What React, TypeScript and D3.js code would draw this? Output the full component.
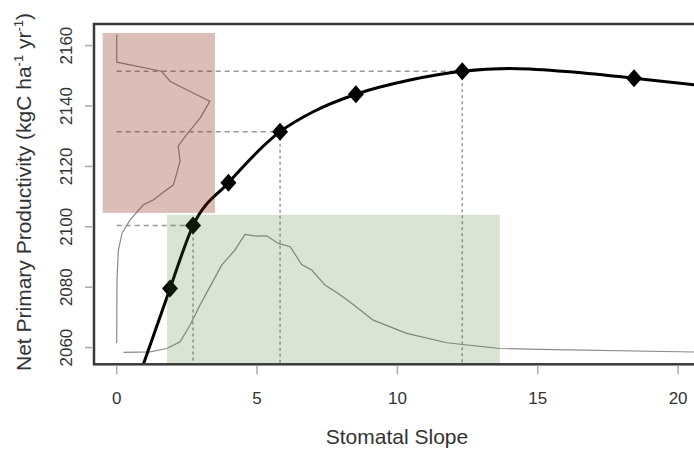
import React from "react";
import * as d3 from "d3";

// Fitted response curve (stomatal slope -> NPP)
const curveX = [0.8, 1.9, 2.72, 3.98, 5.82, 7.0, 8.52, 10.45, 12.31, 14.0, 16.0, 18.43, 20.8];
const curveY = [2050.5, 2079.6, 2100.4, 2114.6, 2131.5, 2138.1, 2143.9, 2148.6, 2151.5, 2152.4, 2151.4, 2149.2, 2146.8];

// Diamond markers
const markerX = [1.9, 2.72, 3.98, 5.82, 8.52, 12.31, 18.43];
const markerY = [2079.6, 2100.4, 2114.6, 2131.5, 2143.9, 2151.5, 2149.2];

// Markers with guide lines (indices into marker arrays)
const guideIdx = [1, 3, 5];

// NPP density (drawn sideways: x = density, y = NPP)
const nppDensX = [0, 0, 1.6, 1.9, 2.49, 3.32, 2.97, 2.49, 2.19, 2.26, 2.02, 1.54, 1.3, 0.95, 0.47, 0.19, 0.06, 0.01, 0];
const nppDensY = [2163.6, 2154.5, 2151.5, 2148.2, 2145.4, 2141.6, 2136.0, 2130.5, 2126.7, 2121.7, 2113.9, 2110.6, 2108.9, 2107.3, 2102.2, 2097.9, 2092.3, 2082.3, 2061.5];

// Stomatal slope density (x = slope, y = NPP-scaled density)
const slopeDensX = [0.24, 1.19, 1.78, 2.26, 2.61, 2.97, 3.32, 3.74, 4.21, 4.57, 4.99, 5.34, 5.76, 6.18, 6.59, 6.95, 7.42, 7.89, 8.31, 9.14, 10.33, 11.76, 13.65, 15.08, 20.8];
const slopeDensY = [2058.4, 2058.6, 2059.7, 2061.9, 2067.4, 2074.1, 2080.1, 2087.3, 2092.3, 2097.5, 2096.9, 2097.0, 2094.5, 2093.4, 2087.5, 2085.7, 2080.7, 2077.9, 2075.1, 2069.1, 2064.7, 2061.6, 2059.7, 2059.4, 2058.5];

// Shaded ranges
const nppBoxX = [-0.5, 3.5];
const nppBoxY = [2104.6, 2164.2];
const slopeBoxX = [1.79, 13.65];
const slopeBoxY = [2040, 2104.0];

const xTicks = [0, 5, 10, 15, 20];
const yTicks = [2060, 2080, 2100, 2120, 2140, 2160];

const W = 694;
const H = 450;
const left = 94;
const right = 700;
const top = 24;
const bottom = 364.3;

export default function App() {
  const x = d3.scaleLinear().domain([0, 20]).range([116.7, 678.1]);
  const y = d3.scaleLinear().domain([2060, 2160]).range([347.6, 45.6]);

  const line = d3
    .line<[number, number]>()
    .x((d) => x(d[0]))
    .y((d) => y(d[1]))
    .curve(d3.curveMonotoneX);
  const lineRaw = d3
    .line<[number, number]>()
    .x((d) => x(d[0]))
    .y((d) => y(d[1]));

  const curvePts = curveX.map((v, i) => [v, curveY[i]] as [number, number]);
  const nppPts = nppDensX.map((v, i) => [v, nppDensY[i]] as [number, number]);
  const slopePts = slopeDensX.map((v, i) => [v, slopeDensY[i]] as [number, number]);

  const font = "'Liberation Sans', Arial, Helvetica, sans-serif";
  const txt = "#333";

  const diamond = (cx: number, cy: number) =>
    `M${cx},${cy - 9}L${cx + 8},${cy}L${cx},${cy + 9}L${cx - 8},${cy}Z`;

  return (
    <svg
      width={W}
      height={H}
      style={{ position: "absolute", left: 0, top: 0, background: "#fff" }}
      fontFamily={font}
    >
      <defs>
        <clipPath id="plot">
          <rect x={left} y={top} width={right - left} height={bottom - top} />
        </clipPath>
      </defs>
      <rect width={W} height={H} fill="#fff" />
      <g clipPath="url(#plot)">
        {/* density lines */}
        <path d={lineRaw(nppPts) || ""} fill="none" stroke="#8a8a8a" strokeWidth={1.2} />
        <path d={lineRaw(slopePts) || ""} fill="none" stroke="#8a8a8a" strokeWidth={1.2} />
        {/* guide lines */}
        {guideIdx.map((i) => (
          <g key={i}>
            <line
              x1={x(0)}
              x2={x(markerX[i])}
              y1={y(markerY[i])}
              y2={y(markerY[i])}
              stroke="#999"
              strokeWidth={1.5}
              strokeDasharray="5,4"
            />
            <line
              x1={x(markerX[i])}
              x2={x(markerX[i])}
              y1={y(markerY[i])}
              y2={bottom}
              stroke="#999"
              strokeWidth={1.5}
              strokeDasharray="3,3"
            />
          </g>
        ))}
        {/* main curve */}
        <path d={line(curvePts) || ""} fill="none" stroke="#000" strokeWidth={3} />
        {markerX.map((v, i) => (
          <path key={i} d={diamond(x(v), y(markerY[i]))} fill="#000" />
        ))}
        {/* shaded ranges */}
        <rect
          x={x(nppBoxX[0])}
          y={y(nppBoxY[1])}
          width={x(nppBoxX[1]) - x(nppBoxX[0])}
          height={y(nppBoxY[0]) - y(nppBoxY[1])}
          fill="rgba(140,40,20,0.3)"
        />
        <rect
          x={x(slopeBoxX[0])}
          y={y(slopeBoxY[1])}
          width={x(slopeBoxX[1]) - x(slopeBoxX[0])}
          height={y(slopeBoxY[0]) - y(slopeBoxY[1])}
          fill="rgba(70,120,40,0.2)"
        />
      </g>
      {/* frame */}
      <rect
        x={left}
        y={top}
        width={right - left}
        height={bottom - top}
        fill="none"
        stroke="#3a3a3a"
        strokeWidth={2.5}
      />
      {/* x axis */}
      {xTicks.map((t) => (
        <g key={t}>
          <line x1={x(t)} x2={x(t)} y1={bottom + 1.5} y2={bottom + 10} stroke="#aaa" strokeWidth={1.5} />
          <text x={x(t)} y={404} textAnchor="middle" fontSize={17} fill={txt}>
            {t}
          </text>
        </g>
      ))}
      {/* y axis */}
      {yTicks.map((t) => (
        <g key={t}>
          <line x1={left - 1.5} x2={left - 9} y1={y(t)} y2={y(t)} stroke="#aaa" strokeWidth={1.5} />
          <text
            transform={`translate(72,${y(t)}) rotate(-90)`}
            textAnchor="middle"
            fontSize={17}
            fill={txt}
          >
            {t}
          </text>
        </g>
      ))}
      <text x={397} y={444} textAnchor="middle" fontSize={21} fill={txt}>
        Stomatal Slope
      </text>
      <text
        transform={`translate(31,192) rotate(-90)`}
        textAnchor="middle"
        fontSize={21}
        fill={txt}
      >
        Net Primary Productivity (kgC ha
        <tspan fontSize={13} dy={-8}>-1</tspan>
        <tspan dy={8}> yr</tspan>
        <tspan fontSize={13} dy={-8}>-1</tspan>
        <tspan dy={8}>)</tspan>
      </text>
    </svg>
  );
}
